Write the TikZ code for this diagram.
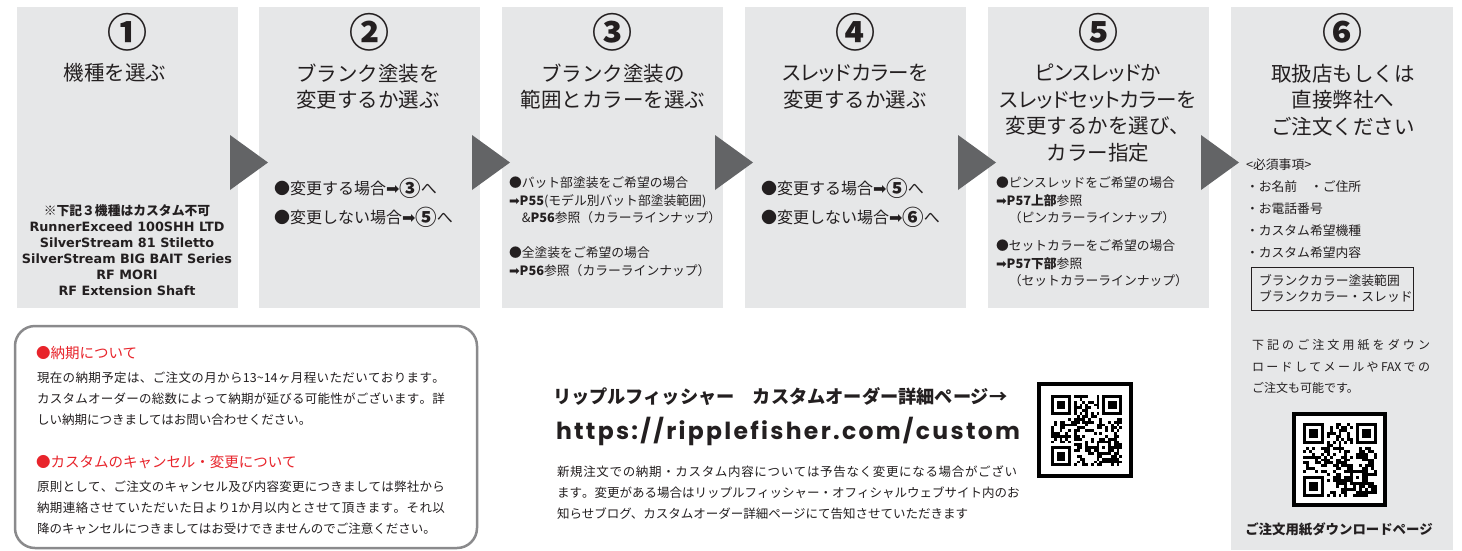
\documentclass[tikz,border=0pt]{standalone}
\usepackage{fontspec}
\setmainfont{Noto Sans CJK JP}
\newfontfamily\jpp[RawFeature=+palt]{Noto Sans CJK JP}
\newfontfamily\dvs{DejaVu Sans}
\newfontfamily\urlf{Poppins}
\usetikzlibrary{calc}
\definecolor{boxgray}{HTML}{E6E7E8}
\definecolor{trigray}{HTML}{636466}
\definecolor{ink}{HTML}{231F20}
\definecolor{redink}{HTML}{E8242B}
\definecolor{framegray}{HTML}{8A8A8C}
\newcommand\fsz[2]{\fontsize{#1}{#2}\selectfont}
\newcommand\cnum[1]{\smash{\raisebox{-2.4pt}{\fsz{21.5}{21.5}\bfseries #1}}}
\makeatletter
\newcommand\spreadtxt[2]{\hbox to #1{\spr@first#2\relax}}
\def\spr@first#1{#1\spr@next}
\def\spr@next#1{\ifx\relax#1\else\hfil#1\expandafter\spr@next\fi}
\makeatother
% fake QR pattern: #1 x0, #2 y0, #3 module size, #4 seed
\newcommand\qrpat[4]{%
  \pgfmathsetseed{#4}%
  \foreach \i in {0,...,24}{\foreach \j in {0,...,24}{%
    \pgfmathsetmacro\rr{rnd}%
    \pgfmathtruncatemacro\res{((\i<8)&&(\j<8)) || ((\i>16)&&(\j<8)) || ((\i<8)&&(\j>16)) || ((\i>15)&&(\i<21)&&(\j>15)&&(\j<21)) || (\i==6) || (\j==6)}%
    \ifnum\res=0 \ifdim\rr pt<0.5pt \fill[black] ({#1+\i*#3},{#2+\j*#3}) rectangle ++(#3,#3);\fi\fi
  }}%
  \foreach \a/\b in {0/0,18/0,0/18}{%
    \fill[black] ({#1+\a*#3},{#2+\b*#3}) rectangle ++({7*#3},{7*#3});
    \fill[white] ({#1+(\a+1)*#3},{#2+(\b+1)*#3}) rectangle ++({5*#3},{5*#3});
    \fill[black] ({#1+(\a+2)*#3},{#2+(\b+2)*#3}) rectangle ++({3*#3},{3*#3});
  }%
  \fill[black] ({#1+16*#3},{#2+16*#3}) rectangle ++({5*#3},{5*#3});
  \fill[white] ({#1+17*#3},{#2+17*#3}) rectangle ++({3*#3},{3*#3});
  \fill[black] ({#1+18*#3},{#2+18*#3}) rectangle ++(#3,#3);
  \foreach \k in {8,10,...,16}{%
    \fill[black] ({#1+\k*#3},{#2+6*#3}) rectangle ++(#3,#3);
    \fill[black] ({#1+6*#3},{#2+\k*#3}) rectangle ++(#3,#3);
  }%
}
\begin{document}
\begin{tikzpicture}[x=1pt,y=-1pt,
  every node/.style={inner sep=0pt, outer sep=0pt, text=ink},
  colbox/.style={fill=boxgray, anchor=north west, minimum width=221pt, minimum height=301pt},
  tri/.style={fill=trigray},
  num/.style={font=\fsz{40}{40}\bfseries},
  title/.style={font=\fsz{20.5}{26.7}, align=center},
  bigbody/.style={font=\fsz{16}{29}, align=left, anchor=west},
  body/.style={font=\fsz{12.8}{17.5}, align=left, anchor=west},
  para/.style={font=\fsz{12.5}{21}, align=left, anchor=west},
  redhead/.style={font=\fsz{14.5}{18}, text=redink, anchor=west}]
\useasboundingbox (0,0) rectangle (1462,550);
\fill[white] (0,0) rectangle (1462,550);

% columns
\node[colbox] (c1) at (17,7) {};
\node[colbox] (c2) at (259,7) {};
\node[colbox] (c3) at (502,7) {};
\node[colbox] (c4) at (745,7) {};
\node[colbox] (c5) at (988,7) {};
\node[colbox, minimum width=222pt, minimum height=543pt] (c6) at (1231,7) {};

% arrows between steps
\foreach \c in {c1,c2,c3,c4,c5}{
  \fill[tri] ($(\c.east)+(-8,-22.5)$) -- ($(\c.east)+(30,5)$) -- ($(\c.east)+(-8,32.5)$) -- cycle;
}

% step numbers
\node[num] (n1) at (127.5,32) {①};
\node[num] (n2) at (369.5,32) {②};
\node[num] (n3) at (612.5,32) {③};
\node[num] (n4) at (855.5,32) {④};
\node[num] (n5) at (1098.5,32) {⑤};
\node[num] (n6) at (1342,32) {⑥};

% titles
\node[title] (t1) at (115,73) {機種を選ぶ};
\node[title] (t2) at (368,86.5) {ブランク塗装を\\変更するか選ぶ};
\node[title] (t3) at (613,86.5) {ブランク塗装の\\範囲とカラーを選ぶ};
\node[title] (t4) at (855,86.5) {{\jpp スレッドカラーを}\\変更するか選ぶ};
\node[title] (t5) at (1098,113) {{\jpp ピンスレッドか}\\{\jpp スレッドセットカラーを}\\変更するかを選び、\\カラー指定};
\node[title] (t6) at (1343,100) {取扱店もしくは\\直接弊社へ\\ご注文ください};

% column 1 note
\node[font=\fsz{12.8}{16}\bfseries, align=center] (w1) at (127,250) {※下記３機種はカスタム不可\\{\dvs RunnerExceed 100SHH LTD}\\{\dvs SilverStream 81 Stiletto}\\{\dvs SilverStream BIG BAIT Series}\\{\dvs RF MORI}\\{\dvs RF Extension Shaft}};

% column 2 / 4 bodies
\node[bigbody] (b2) at (274,202.5) {●変更する場合{\dvs ➡}\cnum{③}へ\\●変更しない場合{\dvs ➡}\cnum{⑤}へ};
\node[bigbody] (b4) at (761,202.5) {●変更する場合{\dvs ➡}\cnum{⑤}へ\\●変更しない場合{\dvs ➡}\cnum{⑥}へ};

% column 3 body
\node[body] (b3) at (509,226.75) {●バット部塗装をご希望の場合\\{\dvs ➡}\textbf{P55}(モデル別バット部塗装範囲)\\\hspace*{1em}\&\textbf{P56}参照（カラーラインナップ）\\\mbox{}\\●全塗装をご希望の場合\\{\dvs ➡}\textbf{P56}参照（カラーラインナップ）};

% column 5 bodies
\node[body] (b5a) at (996,200.5) {●ピンスレッドをご希望の場合\\{\dvs ➡}\textbf{P57上部}参照\\\hspace*{1em}（ピンカラーラインナップ）};
\node[body] (b5b) at (996,263.5) {●セットカラーをご希望の場合\\{\dvs ➡}\textbf{P57下部}参照\\\hspace*{1em}（セットカラーラインナップ）};

% column 6 body
\node[body, font=\fsz{12.8}{22}] (b6) at (1246,209) {<必須事項>\\・お名前　・ご住所\\・お電話番号\\・カスタム希望機種\\・カスタム希望内容};
\node[draw=ink, line width=0.8pt, anchor=north west, minimum width=162pt, minimum height=43pt, font=\fsz{12.8}{16}, align=left, text width=146pt, inner xsep=8pt] (bx) at (1251,267) {ブランクカラー塗装範囲\\ブランクカラー・スレッド};
\node[font=\fsz{12}{21.5}, align=left, anchor=west] (b6p) at (1252,366.5) {\spreadtxt{178pt}{下記のご注文用紙をダウン}\\\spreadtxt{178pt}{ロードしてメールや{FAX}での}\\ご注文も可能です。};
\draw[line width=4pt, fill=white] (1294,414) rectangle (1385,505);
\qrpat{1303}{423}{2.96}{71}
\node[font=\fsz{13.4}{16}\bfseries] (cap6) at (1339,529) {ご注文用紙ダウンロードページ};

% notes box
\node[draw=framegray, line width=2.5pt, rounded corners=20pt, minimum width=462pt, minimum height=222pt, anchor=north west] (nb) at (15,326) {};
\node[redhead] (h1) at (36,353) {●納期について};
\node[para] (p1) at (37,399) {\spreadtxt{408pt}{現在の納期予定は、ご注文の月から{13\textasciitilde14}ヶ月程いただいております。}\\\spreadtxt{408pt}{カスタムオーダーの総数によって納期が延びる可能性がございます。詳}\\しい納期につきましてはお問い合わせください。};
\node[redhead] (h2) at (36,462) {●カスタムのキャンセル・変更について};
\node[para] (p2) at (37,508) {\spreadtxt{408pt}{原則として、ご注文のキャンセル及び内容変更につきましては弊社から}\\\spreadtxt{408pt}{納期連絡させていただいた日より{1}か月以内とさせて頂きます。それ以}\\降のキャンセルにつきましてはお受けできませんのでご注意ください。};

% middle: custom order page
\node[font=\fsz{18.2}{20}\bfseries, anchor=west] (mh) at (553,397) {リップルフィッシャー　カスタムオーダー詳細ページ→};
\node[font=\urlf\fsz{23.5}{26}\bfseries, anchor=west] (url) at (556,431) {\spreadtxt{464pt}{https://ripplefisher.com/custom}};
\node[para] (ms) at (557,493) {\spreadtxt{460pt}{新規注文での納期・カスタム内容については予告なく変更になる場合がござい}\\\spreadtxt{460pt}{ます。変更がある場合はリップルフィッシャー・オフィシャルウェブサイト内のお}\\知らせブログ、カスタムオーダー詳細ページにて告知させていただきます};
\draw[line width=4pt, fill=white] (1039,384) rectangle (1131,476);
\qrpat{1051}{395}{2.85}{29}
\end{tikzpicture}
\end{document}
